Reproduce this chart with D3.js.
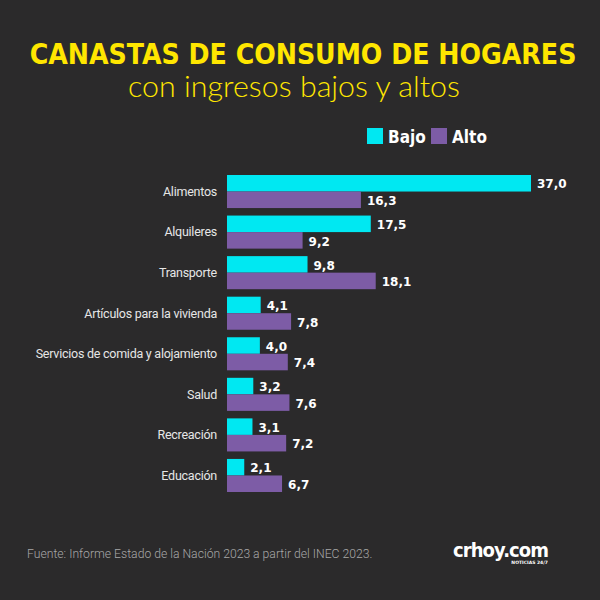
<!DOCTYPE html>
<html>
<head>
<meta charset="utf-8">
<script src="https://cdn.jsdelivr.net/npm/d3@7"></script>
<style>
  body { margin: 0; background: #2b2a2b; }
  svg { display: block; }
</style>
</head>
<body>
<svg></svg>
<script>
const categories = [ 'Alimentos', 'Alquileres', 'Transporte', 'Artículos para la vivienda',
	'Servicios de comida y alojamiento', 'Salud', 'Recreación', 'Educación' ]
const bajo = [ 37.0, 17.5, 9.8, 4.1, 4.0, 3.2, 3.1, 2.1 ]
const alto = [ 16.3, 9.2, 18.1, 7.8, 7.4, 7.6, 7.2, 6.7 ]
const series = [ 'Bajo', 'Alto' ]
const colors = [ '#00e8f2', '#7d5ca6' ]

const WIDTH = 600, HEIGHT = 600
const svg = d3.select( 'svg' ).attr( 'width', WIDTH ).attr( 'height', HEIGHT )

svg.append( 'rect' ).attr( 'width', WIDTH ).attr( 'height', HEIGHT ).attr( 'fill', '#2b2a2b' )

// tekst op een vaste breedte schalen (geen smalle fonts beschikbaar)
function fitText( sel, cx, cy, targetW ) {
	const w = sel.node().getComputedTextLength()
	const k = targetW / w
	sel.attr( 'x', 0 ).attr( 'y', 0 )
		.attr( 'transform', `translate( ${cx}, ${cy} ) scale( ${k}, 1 )` )
}

// titulo
const title = svg.append( 'text' )
	.attr( 'text-anchor', 'middle' )
	.attr( 'fill', '#ffe600' )
	.attr( 'font-family', '"DejaVu Sans Condensed", "DejaVu Sans", sans-serif' )
	.attr( 'font-weight', 'bold' )
	.attr( 'font-size', 29 )
	.text( 'CANASTAS DE CONSUMO DE HOGARES' )
fitText( title, 303, 64, 547 )

const sub = svg.append( 'text' )
	.attr( 'text-anchor', 'middle' )
	.attr( 'fill', '#ffe600' )
	.attr( 'font-family', 'Lato, "Open Sans", sans-serif' )
	.attr( 'font-weight', 300 )
	.attr( 'font-size', 29 )
	.text( 'con ingresos bajos y altos' )
fitText( sub, 294, 97, 332 )

// leyenda
const legend = svg.append( 'g' ).attr( 'transform', 'translate( 367, 128 )' )
const legendX = [ 0, 64 ]
series.forEach( ( s, i ) => {
	legend.append( 'rect' )
		.attr( 'x', legendX[i] ).attr( 'y', 0 )
		.attr( 'width', 16 ).attr( 'height', 16 )
		.attr( 'fill', colors[i] )
	legend.append( 'text' )
		.attr( 'x', legendX[i] + 21 ).attr( 'y', 15 )
		.attr( 'fill', '#fff' )
		.attr( 'font-family', '"DejaVu Sans Condensed", sans-serif' )
		.attr( 'font-weight', 'bold' )
		.attr( 'font-size', 17 )
		.text( s )
} )

// schalen
const x = d3.scaleLinear().domain( [0, 37] ).range( [227, 531] )
const y = d3.scaleBand().domain( categories ).range( [175, 492] ).paddingInner( 0.185 ).paddingOuter( 0 )
const ySub = d3.scaleBand().domain( series ).range( [0, y.bandwidth()] )

const fmt = v => d3.format( '.1f' )( v ).replace( '.', ',' )

const groups = svg.append( 'g' ).selectAll( 'g' )
	.data( categories )
	.join( 'g' )
	.attr( 'transform', d => `translate( 0, ${y( d )} )` )

groups.append( 'text' )
	.attr( 'x', 217 ).attr( 'y', y.bandwidth() / 2 )
	.attr( 'dy', '0.35em' )
	.attr( 'text-anchor', 'end' )
	.attr( 'fill', '#e6e6e6' )
	.attr( 'font-family', 'Roboto, sans-serif' )
	.attr( 'font-size', 12.5 )
	.attr( 'letter-spacing', -0.25 )
	.text( d => d )

const rows = categories.map( ( c, i ) => [
	{ s: 'Bajo', v: bajo[i], c: colors[0] },
	{ s: 'Alto', v: alto[i], c: colors[1] }
] )

groups.selectAll( 'rect' )
	.data( ( d, i ) => rows[i] )
	.join( 'rect' )
	.attr( 'x', x( 0 ) )
	.attr( 'y', d => ySub( d.s ) )
	.attr( 'width', d => x( d.v ) - x( 0 ) )
	.attr( 'height', ySub.bandwidth() )
	.attr( 'fill', d => d.c )

groups.selectAll( 'text.val' )
	.data( ( d, i ) => rows[i] )
	.join( 'text' )
	.attr( 'class', 'val' )
	.attr( 'x', d => x( d.v ) + 6 )
	.attr( 'y', d => ySub( d.s ) + ySub.bandwidth() / 2 + 1 )
	.attr( 'dy', '0.35em' )
	.attr( 'fill', '#fff' )
	.attr( 'font-family', '"DejaVu Sans", sans-serif' )
	.attr( 'font-weight', 'bold' )
	.attr( 'font-size', 12 )
	.text( d => fmt( d.v ) )

// bron
const src = svg.append( 'text' )
	.attr( 'fill', '#a8a8a8' )
	.attr( 'font-family', 'Roboto, sans-serif' )
	.attr( 'font-weight', 300 )
	.attr( 'font-size', 12 )
	.text( 'Fuente: Informe Estado de la Nación 2023 a partir del INEC 2023.' )
fitText( src, 27, 558, 346 )

const logo = svg.append( 'text' )
	.attr( 'text-anchor', 'end' )
	.attr( 'fill', '#fff' )
	.attr( 'font-family', '"DejaVu Sans", sans-serif' )
	.attr( 'font-weight', 'bold' )
	.attr( 'font-size', 19 )
	.attr( 'letter-spacing', -1 )
	.text( 'crhoy.com' )
fitText( logo, 548, 557, 95 )

svg.append( 'text' )
	.attr( 'x', 548 ).attr( 'y', 564 )
	.attr( 'text-anchor', 'end' )
	.attr( 'fill', '#fff' )
	.attr( 'font-family', '"DejaVu Sans", sans-serif' )
	.attr( 'font-weight', 'bold' )
	.attr( 'font-size', 4.5 )
	.text( 'NOTICIAS 24/7' )
</script>
</body>
</html>
